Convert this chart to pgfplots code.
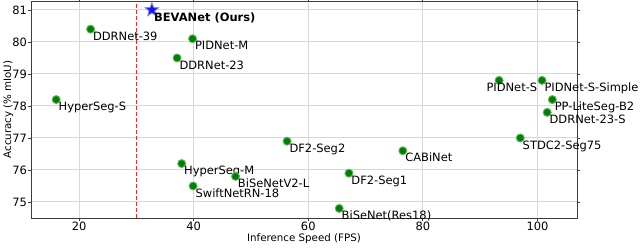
\documentclass[border=0pt]{standalone}
\usepackage{fontspec}
\setmainfont{DejaVu Sans}
\usepackage{pgfplots}
\usepackage{pgfplotstable}
\pgfplotsset{compat=1.18}
\usetikzlibrary{shapes.geometric}
\definecolor{mgreen}{RGB}{0,128,0}
\definecolor{mgreenedge}{RGB}{95,180,95}
\definecolor{mblue}{RGB}{20,20,235}
\definecolor{mblueedge}{RGB}{120,120,250}
\definecolor{gridgray}{RGB}{215,215,215}
\definecolor{spine}{RGB}{60,60,60}
\pgfdeclareplotmark{fstar}{\node[star,star points=5,star point ratio=2.4,minimum size=10.5pt,inner sep=0pt,fill=mblue,draw=mblueedge,line width=0.6pt]{};}
\newcommand\annfont{\fontsize{8.6}{10}\selectfont}
\pgfplotstableread{
x y label
22.0 80.4 DDRNet-39
39.8 80.1 PIDNet-M
37.1 79.5 DDRNet-23
16.0 78.2 HyperSeg-S
100.8 78.8 PIDNet-S-Simple
102.6 78.2 PP-LiteSeg-B2
101.7 77.8 DDRNet-23-S
97.0 77.0 STDC2-Seg75
56.3 76.9 DF2-Seg2
76.5 76.6 CABiNet
37.9 76.2 HyperSeg-M
67.1 75.9 DF2-Seg1
47.3 75.8 BiSeNetV2-L
39.9 75.5 SwiftNetRN-18
65.4 74.8 BiSeNet(Res18)
}\datatable
\pgfplotstableread{
x y label
93.3 78.8 PIDNet-S
}\datatableb
\begin{document}
\begin{tikzpicture}
\begin{axis}[
  scale only axis, width=409.5pt, height=162.75pt,
  xmin=11.6, xmax=106.9, ymin=74.5, ymax=81.28,
  xtick={20,40,60,80,100}, ytick={75,76,...,81},
  tick align=outside, major tick length=2.6pt,
  tick style={spine, line width=0.6pt},
  axis line style={spine, line width=0.7pt},
  grid=major, major grid style={gridgray, line width=0.75pt},
  ticklabel style={font=\annfont, inner sep=0pt},
  xticklabel style={anchor=north, yshift=-0.3pt},
  yticklabel style={anchor=east, xshift=-0.3pt},
  /pgf/number format/assume math mode=true,
  xlabel={Inference Speed (FPS)}, ylabel={Accuracy (\% mIoU)},
  label style={font=\fontsize{7.7}{9}\selectfont},
  x label style={at={(axis description cs:0.5,-0.108)}, anchor=base},
  y label style={at={(axis description cs:-0.0366,0.5)}, anchor=base},
  clip=false,
]
\addplot[red, opacity=0.85, line width=0.9pt, dash pattern=on 3pt off 1.5pt] coordinates {(30,74.5) (30,81.28)};
\addplot[only marks, mark=*, mark size=3pt, mark options={fill=mgreen, draw=mgreenedge, line width=0.7pt},
  nodes near coords={\pgfplotspointmeta}, point meta=explicit symbolic,
  every node near coord/.append style={anchor=base west, inner sep=0pt, xshift=1.5pt, yshift=-8.4pt, font=\annfont, text=black}]
  table[x=x, y=y, meta=label] {\datatable};
\addplot[only marks, mark=*, mark size=3pt, mark options={fill=mgreen, draw=mgreenedge, line width=0.7pt},
  nodes near coords={\pgfplotspointmeta}, point meta=explicit symbolic,
  every node near coord/.append style={anchor=base west, inner sep=0pt, xshift=-9.75pt, yshift=-8.6pt, font=\annfont, text=black}]
  table[x=x, y=y, meta=label] {\datatableb};
\addplot[only marks, mark=fstar,
  nodes near coords={\bfseries BEVANet (Ours)},
  every node near coord/.append style={anchor=base west, inner sep=0pt, xshift=1.5pt, yshift=-8.8pt, font=\annfont, text=black}]
  coordinates {(32.7, 81.0)};
\end{axis}
\pgfresetboundingbox
\path (-23.25pt,-21.75pt) rectangle (456.75pt,163.5pt);
\end{tikzpicture}
\end{document}
